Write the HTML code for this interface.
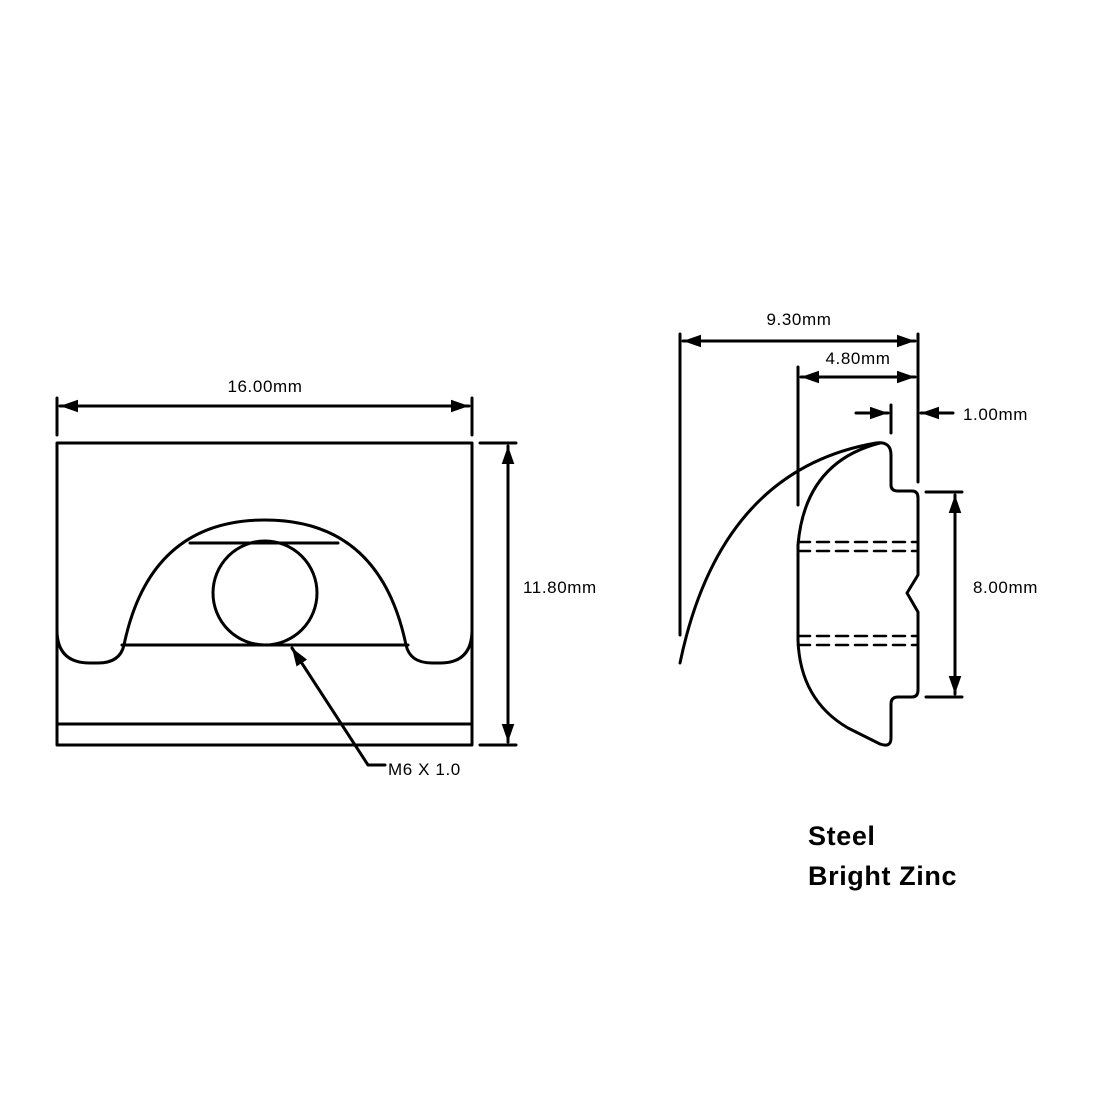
<!DOCTYPE html>
<html><head><style>body{margin:0;background:#fff}svg{display:block}text{font-family:"Liberation Sans",sans-serif;fill:#000}</style></head><body>
<svg width="1100" height="1100" viewBox="0 0 1100 1100" xmlns="http://www.w3.org/2000/svg">
<defs><marker id="a" viewBox="0 0 10 10" refX="10" refY="5" markerWidth="6" markerHeight="6" orient="auto-start-reverse"><path d="M0,1.5 L10,5 L0,8.5z" fill="#000"/></marker></defs>
<g stroke="#000" stroke-width="3" fill="none" stroke-linecap="round" stroke-linejoin="round">
<rect x="57" y="443" width="415" height="302"/>
<line x1="57" y1="724" x2="472" y2="724"/>
<path d="M57,630 Q57,663 90,663 L98,663 Q120,663 124,645 Q150,520 265,520 Q380,520 406,645 Q410,663 432,663 L440,663 Q472,663 472,630"/>
<line x1="122" y1="645" x2="408" y2="645"/>
<line x1="190" y1="543" x2="338" y2="543"/>
<circle cx="265" cy="593" r="52"/>
<line x1="57" y1="398" x2="57" y2="435"/><line x1="472" y1="398" x2="472" y2="435"/>
<line x1="60" y1="406" x2="469" y2="406" marker-start="url(#a)" marker-end="url(#a)"/>
<line x1="480" y1="443" x2="516" y2="443"/><line x1="480" y1="745" x2="516" y2="745"/>
<line x1="508" y1="446" x2="508" y2="742" marker-start="url(#a)" marker-end="url(#a)"/>
<polyline points="385,765 368,765 292,648" marker-end="url(#a)"/>
<line x1="680" y1="334" x2="680" y2="635"/>
<line x1="918" y1="334" x2="918" y2="482"/>
<line x1="683" y1="341" x2="915" y2="341" marker-start="url(#a)" marker-end="url(#a)"/>
<line x1="798" y1="367" x2="798" y2="505"/>
<line x1="801" y1="377" x2="915" y2="377" marker-start="url(#a)" marker-end="url(#a)"/>
<line x1="891" y1="405" x2="891" y2="433"/>
<line x1="856" y1="413" x2="888" y2="413" marker-end="url(#a)"/>
<line x1="953" y1="413" x2="921" y2="413" marker-end="url(#a)"/>
<path d="M680,663 Q720,470 876,443 Q891,441 891,455 L891,485 Q891,491 898,491 L912,491 Q918,491 918,498 L918,575 L907,593 L918,612 L918,690 Q918,697 912,697 L898,697 Q891,697 891,704 L891,738 Q891,748 880,744 L848,728 Q800,700 798,640 L798,545 Q805,462 880,443"/>
<g stroke-width="2.5" stroke-dasharray="12,7">
<line x1="798" y1="542" x2="918" y2="542"/><line x1="798" y1="551" x2="918" y2="551"/>
<line x1="798" y1="636" x2="918" y2="636"/><line x1="798" y1="645" x2="918" y2="645"/>
</g>
<line x1="926" y1="492" x2="962" y2="492"/><line x1="926" y1="697" x2="962" y2="697"/>
<line x1="955" y1="495" x2="955" y2="694" marker-start="url(#a)" marker-end="url(#a)"/>
</g>
<g font-size="17" letter-spacing="0.6">
<text x="265" y="392" text-anchor="middle">16.00mm</text>
<text x="523" y="593">11.80mm</text>
<text x="388" y="775">M6 X 1.0</text>
<text x="799" y="325" text-anchor="middle">9.30mm</text>
<text x="858" y="364" text-anchor="middle">4.80mm</text>
<text x="963" y="420">1.00mm</text>
<text x="973" y="593">8.00mm</text>
</g>
<g font-size="27" font-weight="bold" letter-spacing="0.6">
<text x="808" y="845">Steel</text>
<text x="808" y="885">Bright Zinc</text>
</g>
</svg>
</body></html>
